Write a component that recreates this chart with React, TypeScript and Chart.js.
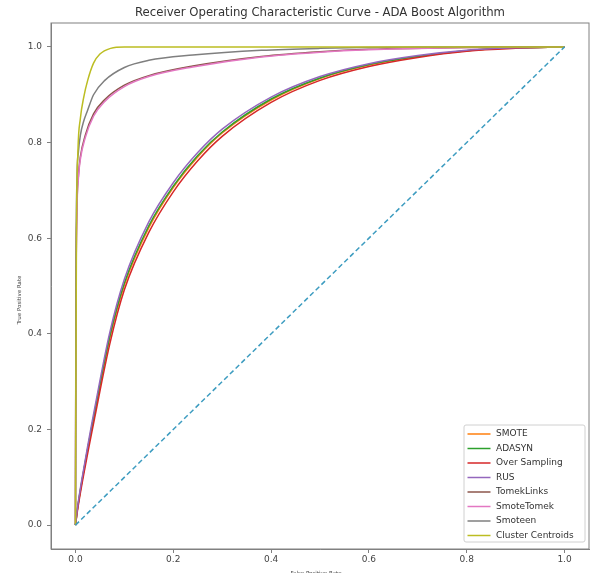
import React, { useEffect, useRef } from "react";
import { Chart, registerables } from "chart.js";

Chart.register(...registerables);

const TITLE = "Receiver Operating Characteristic Curve - ADA Boost Algorithm";
const X_TITLE = "False Positive Rate";
const Y_TITLE = "True Positive Rate";
const TICKS = [0, 0.2, 0.4, 0.6, 0.8, 1.0];
const TICK_LABELS = ["0.0", "0.2", "0.4", "0.6", "0.8", "1.0"];

const SERIES_NAMES = ["SMOTE", "ADASYN", "Over Sampling", "RUS", "TomekLinks", "SmoteTomek", "Smoteen", "Cluster Centroids"];
const SERIES_COLORS = ["#ff7f0e", "#2ca02c", "#d62728", "#9467bd", "#8c564b", "#e377c2", "#7f7f7f", "#bcbd22"];

const LOW_FPR = [0, 0.005, 0.02, 0.04, 0.07, 0.1, 0.15, 0.2, 0.25, 0.3, 0.4, 0.5, 0.6, 0.7, 0.8, 0.9, 1.0];
const SMOTE_TPR = [0, 0.04, 0.13, 0.238, 0.39, 0.502, 0.622, 0.706, 0.77, 0.82, 0.889, 0.934, 0.962, 0.98, 0.992, 0.998, 1];
const ADASYN_TPR = [0, 0.04, 0.132, 0.241, 0.394, 0.506, 0.626, 0.709, 0.773, 0.822, 0.891, 0.935, 0.963, 0.98, 0.992, 0.998, 1];
const OVER_TPR = [0, 0.036, 0.123, 0.228, 0.378, 0.492, 0.612, 0.697, 0.762, 0.813, 0.884, 0.93, 0.959, 0.978, 0.991, 0.997, 1];
const RUS_TPR = [0, 0.043, 0.136, 0.248, 0.402, 0.514, 0.634, 0.716, 0.779, 0.828, 0.895, 0.938, 0.965, 0.982, 0.993, 0.998, 1];

const MID_FPR = [0, 0.001, 0.003, 0.006, 0.01, 0.02, 0.037, 0.06, 0.1, 0.15, 0.24, 0.38, 0.5, 0.6, 0.8, 1.0];
const TOMEK_TPR = [0, 0.45, 0.66, 0.73, 0.77, 0.815, 0.86, 0.89, 0.92, 0.94, 0.96, 0.98, 0.99, 0.995, 0.999, 1];
const SMOTETOMEK_TPR = [0, 0.44, 0.65, 0.725, 0.765, 0.81, 0.855, 0.886, 0.917, 0.938, 0.958, 0.979, 0.989, 0.994, 0.999, 1];

const SMOTEEN_FPR = [0, 0.001, 0.003, 0.006, 0.01, 0.017, 0.024, 0.037, 0.06, 0.1, 0.15, 0.24, 0.38, 0.5, 0.7, 1.0];
const SMOTEEN_TPR = [0, 0.5, 0.72, 0.78, 0.815, 0.845, 0.865, 0.9, 0.93, 0.957, 0.972, 0.983, 0.993, 0.997, 1, 1];

const CLUSTER_FPR = [0, 0.002, 0.005, 0.01, 0.017, 0.025, 0.037, 0.05, 0.072, 0.1, 0.2, 1.0];
const CLUSTER_TPR = [0, 0.6, 0.78, 0.85, 0.895, 0.93, 0.966, 0.985, 0.997, 1, 1, 1];

const DIAG_X = [0, 1];
const DIAG_Y = [0, 1];

const SERIES_FPR = [LOW_FPR, LOW_FPR, LOW_FPR, LOW_FPR, MID_FPR, MID_FPR, SMOTEEN_FPR, CLUSTER_FPR];
const SERIES_TPR = [SMOTE_TPR, ADASYN_TPR, OVER_TPR, RUS_TPR, TOMEK_TPR, SMOTETOMEK_TPR, SMOTEEN_TPR, CLUSTER_TPR];

const FONT = "'DejaVu Sans', sans-serif";

const decorPlugin = {
  id: "decor",
  afterDraw(chart: any) {
    const ctx = chart.ctx;
    const ca = chart.chartArea;
    ctx.save();
    ctx.strokeStyle = "#808080";
    ctx.lineWidth = 1;
    ctx.strokeRect(ca.left, ca.top, ca.right - ca.left, ca.bottom - ca.top);
    ctx.fillStyle = "#333";
    ctx.font = `11.7px ${FONT}`;
    ctx.textAlign = "center";
    ctx.textBaseline = "middle";
    ctx.fillText(TITLE, (ca.left + ca.right) / 2, 13);
    ctx.font = `5.5px ${FONT}`;
    ctx.fillStyle = "#444";
    ctx.textBaseline = "top";
    ctx.fillText(X_TITLE, (ca.left + ca.right) / 2 - 4, 571);
    ctx.save();
    ctx.translate(20, 300);
    ctx.rotate(-Math.PI / 2);
    ctx.textBaseline = "middle";
    ctx.fillText(Y_TITLE, 0, 0);
    ctx.restore();
    const w = 121;
    const h = 117;
    const bx = ca.right - 4 - w;
    const by = ca.bottom - 7 - h;
    ctx.beginPath();
    if (ctx.roundRect) ctx.roundRect(bx, by, w, h, 2);
    else ctx.rect(bx, by, w, h);
    ctx.fillStyle = "rgba(255,255,255,0.85)";
    ctx.fill();
    ctx.strokeStyle = "#d0d0d0";
    ctx.lineWidth = 1;
    ctx.stroke();
    ctx.font = `9px ${FONT}`;
    ctx.textAlign = "left";
    ctx.textBaseline = "middle";
    SERIES_NAMES.forEach((name, i) => {
      const y = by + 9 + i * 14.5;
      ctx.strokeStyle = SERIES_COLORS[i];
      ctx.lineWidth = 1.5;
      ctx.beginPath();
      ctx.moveTo(bx + 3.5, y);
      ctx.lineTo(bx + 26.5, y);
      ctx.stroke();
      ctx.fillStyle = "#333";
      ctx.fillText(name, bx + 32, y);
    });
    ctx.restore();
  },
};

export default function App() {
  const ref = useRef<HTMLCanvasElement | null>(null);
  useEffect(() => {
    if (!ref.current) return;
    const n = SERIES_NAMES.length;
    const datasets: any[] = SERIES_NAMES.map((name, i) => ({
      label: name,
      data: SERIES_FPR[i].map((x, j) => ({ x, y: SERIES_TPR[i][j] })),
      borderColor: SERIES_COLORS[i],
      backgroundColor: SERIES_COLORS[i],
      borderWidth: 1.5,
      pointRadius: 0,
      fill: false,
      cubicInterpolationMode: "monotone",
      order: n - i,
    }));
    datasets.push({
      label: "diag",
      data: DIAG_X.map((x, j) => ({ x, y: DIAG_Y[j] })),
      borderColor: "#3d9cc0",
      borderWidth: 1.5,
      borderDash: [5, 3],
      pointRadius: 0,
      fill: false,
      order: 0,
    });
    const tickCfg = (axis: string) => ({
      type: "linear",
      min: -0.05,
      max: 1.05,
      afterBuildTicks: (scale: any) => {
        scale.ticks = TICKS.map((v) => ({ value: v }));
      },
      afterFit: (scale: any) => {
        if (axis === "x") scale.height = 24;
        else scale.width = 51;
      },
      ticks: {
        callback: (v: number) => {
          const idx = TICKS.findIndex((t) => Math.abs(t - v) < 1e-9);
          return idx >= 0 ? TICK_LABELS[idx] : "";
        },
        color: "#444",
        font: { family: FONT, size: 9 },
        padding: axis === "x" ? 1 : 5,
        maxRotation: 0,
        autoSkip: false,
      },
      grid: {
        drawOnChartArea: false,
        drawTicks: true,
        tickLength: 4,
        color: "#808080",
      },
      border: { display: true, color: "#808080" },
    });
    const chart = new Chart(ref.current, {
      type: "line",
      data: { datasets },
      options: {
        responsive: false,
        animation: false,
        devicePixelRatio: 1,
        parsing: true,
        layout: { padding: { top: 23, right: 5, left: 0, bottom: 0 } },
        plugins: { legend: { display: false }, title: { display: false }, tooltip: { enabled: false } },
        scales: { x: tickCfg("x") as any, y: tickCfg("y") as any },
      },
      plugins: [decorPlugin],
    } as any);
    return () => chart.destroy();
  }, []);
  return (
    <div style={{ position: "fixed", left: 0, top: 0, width: 594, height: 573, background: "#fff", overflow: "hidden" }}>
      <canvas ref={ref} width={594} height={573} style={{ display: "block", width: 594, height: 573 }} />
    </div>
  );
}
